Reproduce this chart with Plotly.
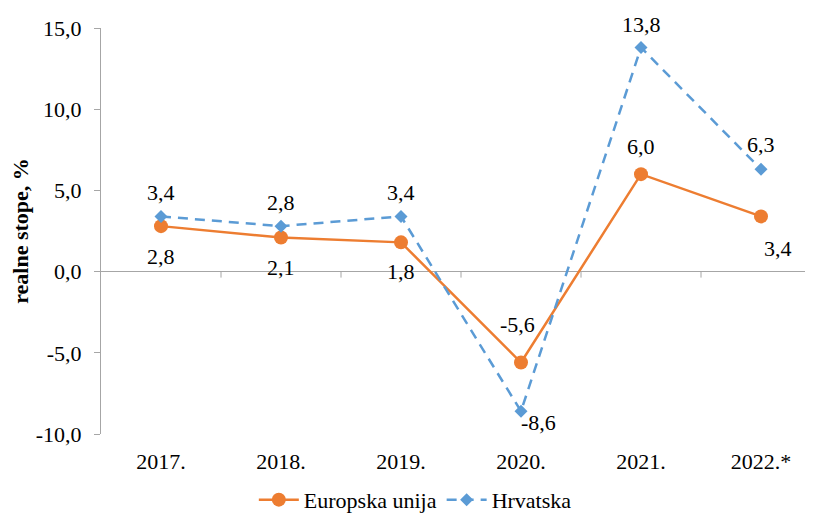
import plotly.graph_objects as go

years = ["2017.", "2018.", "2019.", "2020.", "2021.", "2022.*"]
eu = [2.8, 2.1, 1.8, -5.6, 6.0, 3.4]
hr = [3.4, 2.8, 3.4, -8.6, 13.8, 6.3]
yticks = [-10, -5, 0, 5, 10, 15]

# label offsets in pixels (dx, dy with dy positive = up)
eu_off = [(0, -30), (0, -30), (0, -29), (-4, 38), (0, 28), (17, -32)]
hr_off = [(0, 24), (0, 24), (0, 24), (17, -11), (0, 23), (0, 25)]

def fmt(v):
    return f"{v:.1f}".replace(".", ",")

xs = list(range(len(years)))
FONT = "Liberation Serif"
FS = 22
ORANGE = "#ED7D31"
BLUE = "#5B9BD5"
GRAY = "#A6A6A6"

fig = go.Figure()
fig.add_trace(go.Scatter(
    x=xs, y=eu, name="Europska unija", mode="lines+markers",
    line=dict(color=ORANGE, width=2.5),
    marker=dict(symbol="circle", size=14, color=ORANGE),
    cliponaxis=False,
))
fig.add_trace(go.Scatter(
    x=xs, y=hr, name="Hrvatska", mode="lines+markers",
    line=dict(color=BLUE, width=2.5, dash="10px,7px"),
    marker=dict(symbol="diamond", size=10, color=BLUE),
    cliponaxis=False,
))

for series, offs in ((eu, eu_off), (hr, hr_off)):
    for x, v, (dx, dy) in zip(xs, series, offs):
        fig.add_annotation(x=x, y=v, xref="x", yref="y", text=fmt(v), showarrow=False,
                           xshift=dx, yshift=dy,
                           font=dict(family=FONT, size=FS, color="#000"))

# tick marks on the x axis drawn at y = 0 (category boundaries)
for i in range(len(years) - 1):
    fig.add_shape(type="line", xref="x", yref="y", x0=i + 0.5, x1=i + 0.5,
                  ysizemode="pixel", yanchor=0, y0=0, y1=-6,
                  line=dict(color=GRAY, width=1))

fig.update_layout(
    width=805, height=505,
    margin=dict(l=93, r=0, t=20, b=79),
    paper_bgcolor="white", plot_bgcolor="white",
    font=dict(family=FONT, size=FS, color="#000"),
    showlegend=True,
    legend=dict(orientation="h", xref="container", yref="container",
                x=0.506, xanchor="center", y=0.026, yanchor="middle",
                font=dict(family=FONT, size=FS, color="#000"), itemwidth=40,
                bgcolor="rgba(0,0,0,0)"),
    xaxis=dict(
        range=[-0.5, 5.4333], tickmode="array", tickvals=xs, ticktext=years,
        showline=False, showgrid=False, zeroline=False, ticks="",
        ticklabelstandoff=12, fixedrange=True, automargin=False,
    ),
    yaxis=dict(
        range=[-10, 15], tickmode="array", tickvals=yticks,
        ticktext=[fmt(v) for v in yticks],
        showline=True, linecolor=GRAY, linewidth=1,
        ticks="outside", ticklen=6, tickcolor=GRAY,
        showgrid=False, zeroline=True, zerolinecolor=GRAY, zerolinewidth=1,
        title=dict(text="<b>realne stope, %</b>", font=dict(family=FONT, size=FS), standoff=14),
        ticklabelstandoff=8, automargin=False,
    ),
)

fig.write_html("out.html")
